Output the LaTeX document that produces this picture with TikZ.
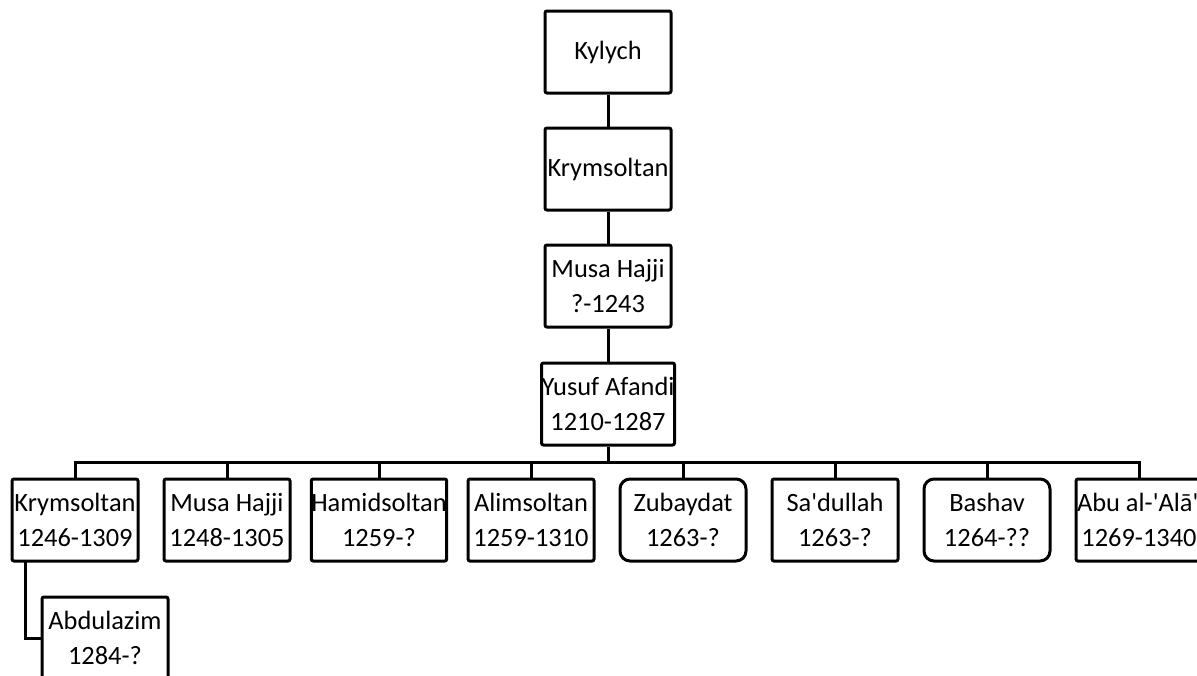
\documentclass[tikz,border=0pt]{standalone}
\usepackage{fontspec}
\setmainfont{Carlito}
\begin{document}
\begin{tikzpicture}[x=0.5pt,y=-0.5pt,
  person/.style={draw, line width=1.5pt, rectangle, rounded corners=1pt, minimum width=63pt, minimum height=41pt, inner sep=0pt, align=center, font=\fontsize{13.2}{17.5}\selectfont},
  female/.style={person, rounded corners=5pt},
  link/.style={line width=1.5pt}]
\clip (0,0) rectangle (1197,675);
\useasboundingbox (0,0) rectangle (1197,675);
\node[person] (kylych) at (608,52) {Kylych};
\node[person] (krym) at (608,169) {Krymsoltan};
\node[person] (musa) at (608,286) {Musa Hajji\\?-1243};
\node[person] (yusuf) at (608,404) {Yusuf Afandi\\1210-1287};
\coordinate (bus) at (608,462);
\node[person] (c1) at (75,520) {Krymsoltan\\1246-1309};
\node[person] (c2) at (227,520) {Musa Hajji\\1248-1305};
\node[person] (c3) at (379,520) {Hamidsoltan\\1259-?};
\node[person] (c4) at (531,520) {Alimsoltan\\1259-1310};
\node[female] (c5) at (683,520) {Zubaydat\\1263-?};
\node[person] (c6) at (835,520) {Sa\textquotesingle dullah\\1263-?};
\node[female] (c7) at (987,520) {Bashav\\1264-??};
\node[person] (c8) at (1139,520) {\makebox[62pt][l]{Abu al-\textquotesingle Alā\textquotesingle}\\1269-1340};
\node[person] (abd) at (105,638) {Abdulazim\\1284-?};
\coordinate (kdrop) at (25,562);
\draw[link] (kylych) -- (krym);
\draw[link] (krym) -- (musa);
\draw[link] (musa) -- (yusuf);
\draw[link] (yusuf.south) -- (bus);
\foreach \c in {c1,c2,c3,c4,c5,c6,c7,c8}
  \draw[link] (bus) -| (\c.north);
\draw[link] (kdrop) |- (abd.west);
\end{tikzpicture}
\end{document}
